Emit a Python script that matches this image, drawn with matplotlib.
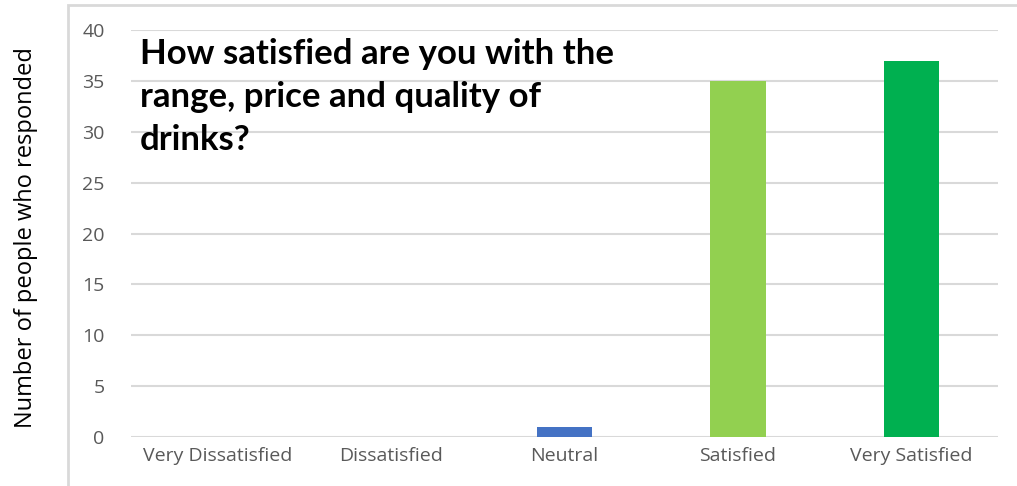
import numpy as np
import matplotlib.pyplot as plt
from matplotlib.patches import Rectangle

categories = ["Very Dissatisfied", "Dissatisfied", "Neutral", "Satisfied", "Very Satisfied"]
counts = [0, 0, 1, 35, 37]
bar_colors = ["#4472C4", "#4472C4", "#4472C4", "#92D050", "#00B050"]
yticks = [0, 5, 10, 15, 20, 25, 30, 35, 40]

W, H = 1017, 486
fig = plt.figure(figsize=(W / 100, H / 100), dpi=100)
ax = fig.add_axes([131 / W, 1 - 437 / H, 867 / W, 407 / H])

x = np.arange(len(categories))
ax.bar(x, counts, width=0.32, color=bar_colors, zorder=3)

ax.set_xlim(-0.5, len(categories) - 0.5)
ax.set_ylim(0, 40)
ax.set_yticks(yticks)
ax.set_xticks(x)
ax.set_xticklabels(categories)
ax.grid(axis="y", color="#d9d9d9", linewidth=1.5, zorder=0)
ax.tick_params(length=0, labelcolor="#595959", labelsize=14)
ax.tick_params(axis="x", pad=7)
ax.tick_params(axis="y", pad=19)
for s in ax.spines.values():
    s.set_visible(False)
for lbl in ax.get_xticklabels() + ax.get_yticklabels():
    lbl.set_family("Open Sans")

fig.text(26 / W, 1 - 238 / H, "Number of people who responded", rotation=90,
         ha="center", va="center", fontsize=17, family="Open Sans", color="black")

fig.text(140 / W, 1 - 38 / H, "How satisfied are you with the\nrange, price and quality of\ndrinks?",
         ha="left", va="top", fontsize=25, fontweight="bold", family="Lato",
         linespacing=1.42, color="black")

# chart area border, cropped at right and bottom
fig.patches.append(Rectangle((68 / W, -0.2), 1.5, 1.2 - 5 / H,
                             transform=fig.transFigure, fill=False,
                             edgecolor="#d9d9d9", linewidth=2, clip_on=False))

fig.savefig("out.png", dpi=100)
